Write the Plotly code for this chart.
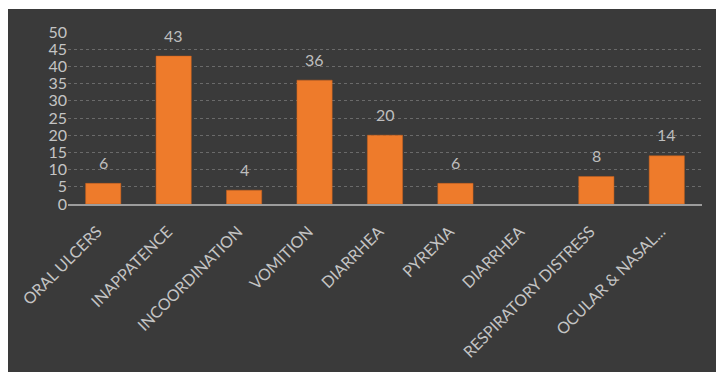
import plotly.graph_objects as go

categories = ["ORAL ULCERS", "INAPPATENCE", "INCOORDINATION", "VOMITION", "DIARRHEA",
              "PYREXIA", "DIARRHEA", "RESPIRATORY DISTRESS", "OCULAR & NASAL..."]
values = [6, 43, 4, 36, 20, 6, None, 8, 14]
y_ticks = [0, 5, 10, 15, 20, 25, 30, 35, 40, 45, 50]

positions = list(range(len(categories)))

W, H = 716, 375
ml, mr, mt, mb = 68, 14, 32, 171
pw, ph = W - ml - mr, H - mt - mb

def px_x(p):
    return (p - ml) / pw

def px_y(p):
    return (H - mb - p) / ph

fig = go.Figure()
fig.add_trace(go.Bar(
    x=positions, y=values,
    marker=dict(color="#EE7B2B", line=dict(color="#C8601C", width=0.5)),
    width=0.5,
))

annotations = []
for p, v in zip(positions, values):
    if v is None:
        continue
    annotations.append(dict(x=p, y=v, text=str(v), showarrow=False,
                            xref="x", yref="y", yanchor="middle", yshift=21,
                            font=dict(size=16, color="#BEBEBE", family="Lato")))

fig.update_layout(
    width=W, height=H,
    margin=dict(l=ml, r=mr, t=mt, b=mb),
    paper_bgcolor="white", plot_bgcolor="rgba(0,0,0,0)",
    showlegend=False,
    font=dict(family="Lato", color="#C4C4C4"),
    annotations=annotations,
    shapes=[dict(type="rect", xref="paper", yref="paper", layer="below",
                 x0=px_x(8), x1=px_x(716), y0=px_y(372), y1=px_y(9),
                 fillcolor="#3A3A3A", line=dict(width=0))],
)
fig.update_xaxes(
    tickmode="array", tickvals=positions, ticktext=categories,
    range=[-0.5, len(categories) - 0.5], tickangle=-45,
    tickfont=dict(size=16, color="#C4C4C4", family="Lato"),
    ticklabelstandoff=10, ticklabelshift=-6,
    showline=True, linecolor="#9C9C9C", linewidth=2, showgrid=False,
    ticks="", zeroline=False,
)
fig.update_yaxes(
    range=[0, 50], tickmode="array", tickvals=y_ticks,
    tickfont=dict(size=16, color="#C4C4C4", family="Lato"),
    showgrid=True, gridcolor="#6A6A6A", griddash="dot", gridwidth=1,
    zeroline=False, ticks="", showline=False,
)

fig.write_html("out.html")
